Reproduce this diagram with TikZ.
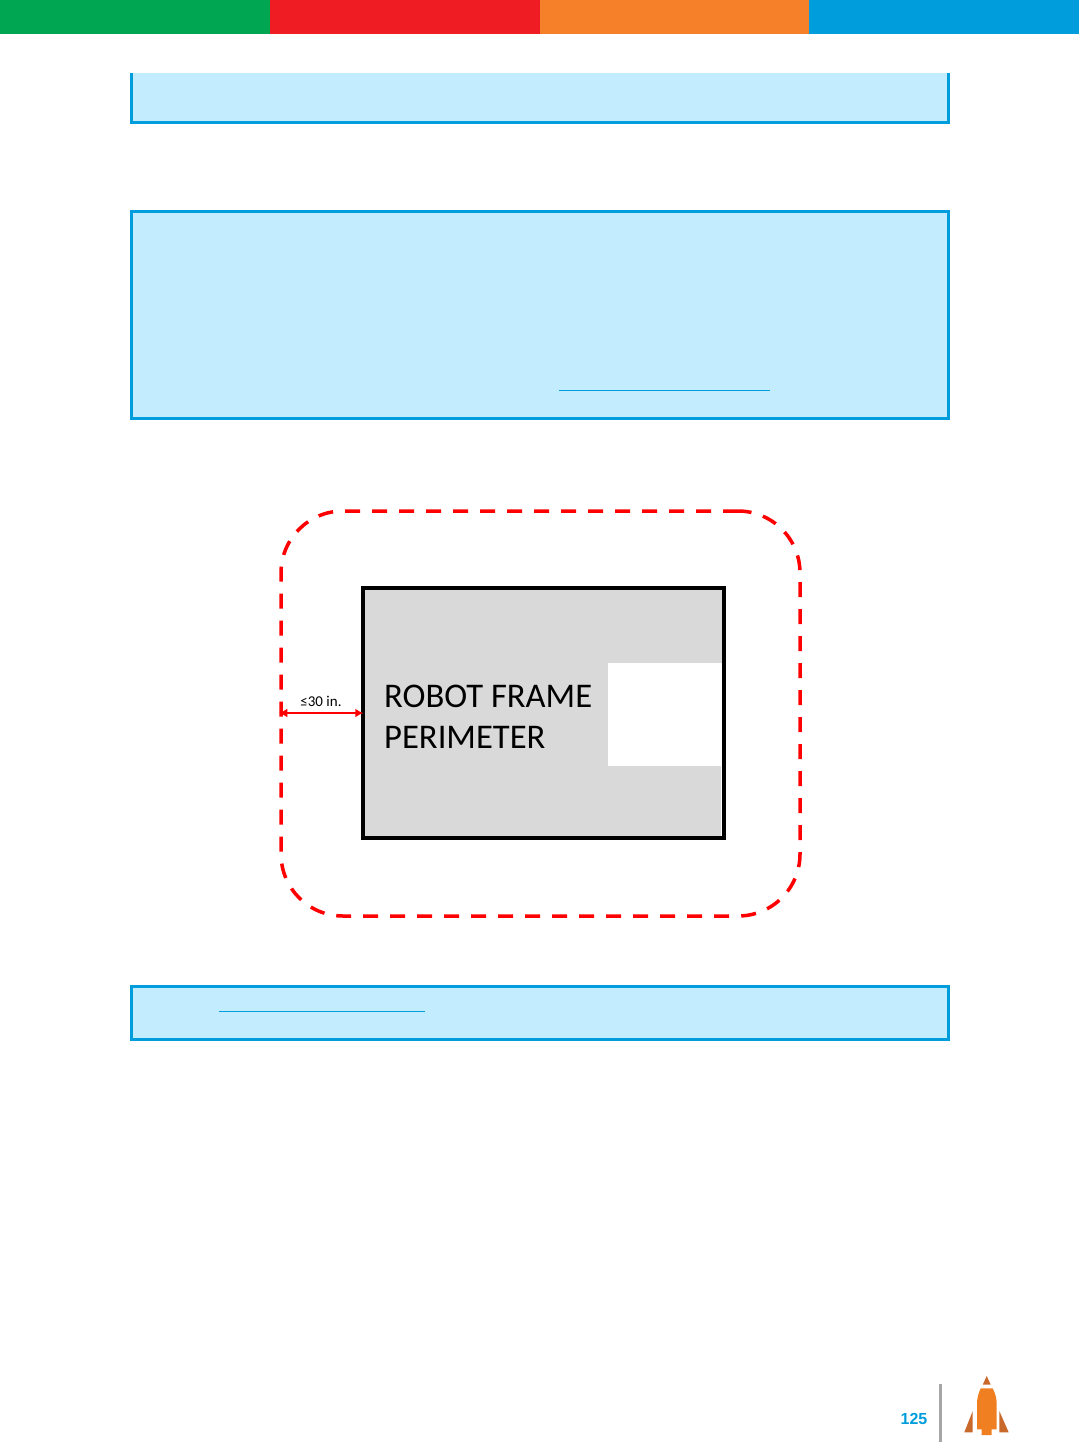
\documentclass[tikz,border=0pt]{standalone}
\usepackage{fontspec}
\setmainfont{Carlito}
\newfontfamily\pagefont{Liberation Sans}
\usetikzlibrary{calc,positioning,arrows.meta}
\definecolor{boxblue}{HTML}{C4ECFF}
\definecolor{ruleblue}{HTML}{009DDC}
\definecolor{rocketbody}{HTML}{F07F22}
\definecolor{rocketfin}{HTML}{C8682A}
\tikzset{
  bluebox/.style={draw=ruleblue, fill=boxblue, line width=3pt},
  linkline/.style={ruleblue, line width=1pt},
  zonebox/.style={draw=red, line width=3.5pt, dash pattern=on 15pt off 12pt, rounded corners=62pt, minimum width=519pt, minimum height=405pt, inner sep=0pt},
  framebox/.style={draw=black, line width=3.5pt, fill=black!15, minimum width=361pt, minimum height=250pt, inner sep=0pt},
  framelabel/.style={anchor=base west, inner sep=0pt, font=\fontsize{34.6}{36}\selectfont}
}
\begin{document}
\begin{tikzpicture}[x=1pt, y=-1pt]
\useasboundingbox (0,0) rectangle (1079,1442);

\foreach \xa/\xb/\bandcol in {0/270/00A651, 270/540/F01C24, 540/809/F68029, 809/1079/009DDC}{
  \definecolor{bandcol}{HTML}{\bandcol}
  \fill[bandcol] (\xa,0) rectangle (\xb,34);
}

\fill[boxblue] (131,73) rectangle (948,123);
\draw[ruleblue, line width=3pt] (131,73) -- (131,123) -- (948,123) -- (948,73);
\draw[bluebox] (131,211) rectangle (948,418);
\draw[bluebox] (131,986) rectangle (948,1039);
\draw[linkline] (559,390) -- (770,390);
\draw[linkline] (219,1011) -- (425,1011);

\node[zonebox] (zone) at (540.5,713.5) {};
\node[framebox] (frame) at (543.5,713) {};
\fill[white] (608,663) rectangle (722,766);
\fill[white] (721,766) rectangle (722,836);

\node[framelabel] (robot) at (384,707) {ROBOT FRAME};
\node[framelabel] (perimeter) at (384,748) {PERIMETER};

\draw[red, line width=2.5pt, shorten >=-2pt, {Latex[length=8pt,width=9pt]}-{Latex[length=8pt,width=9pt]}] (zone.west |- frame.west) -- (frame.west);
\node[font=\fontsize{15}{17}\selectfont] (gap) at (321,701.5) {≤30 in.};

% page number and rocket
\node[font=\pagefont\bfseries\fontsize{16}{18}\selectfont, text=ruleblue] (pagenum) at (914,1419) {125};
\coordinate (bara) at (940.7,1384);
\coordinate (barb) at (940.7,1442);
\draw[black!35, line width=3pt] (bara) -- (barb);
\fill[rocketfin] (986.7,1376) -- (990.7,1384.7) -- (982.7,1384.7) -- cycle;
\fill[rocketbody] (980.7,1388.3) -- (992.7,1388.3) .. controls (995,1393) and (996.7,1398) .. (996.7,1403.3) -- (996.7,1429.3) -- (991.7,1429.3) -- (991.7,1435) -- (981.7,1435) -- (981.7,1429.3) -- (977,1429.3) -- (977,1403.3) .. controls (977,1398) and (978.5,1393) .. cycle;
\fill[rocketfin] (972.7,1411) -- (972.7,1432.3) -- (964.3,1432.3) -- cycle;
\fill[rocketfin] (999.3,1411) -- (999.3,1432.3) -- (1008.7,1432.3) -- cycle;

\end{tikzpicture}
\end{document}
